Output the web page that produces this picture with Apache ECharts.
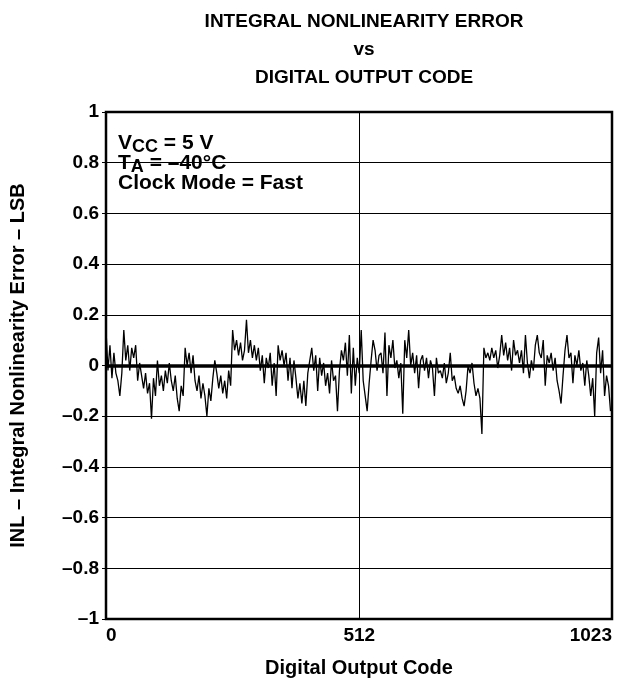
<!DOCTYPE html>
<html>
<head>
  <meta charset="utf-8">
  <script src="https://cdn.jsdelivr.net/npm/echarts@6/dist/echarts.min.js"></script>
</head>
<body style="margin:0; background:#fff;">
  <div id="container" style="width:635px; height:685px;"></div>
  <script type="text/javascript">
    // INL values, one sample every 4 codes
    var inl = [
      0.14, -0.02, 0.08, -0.05, 0.05, -0.03, -0.06, -0.12, -0.03, 0.14,
      0.02, 0.08, -0.02, 0.07, 0.03, 0.08, -0.06, 0.01, -0.04, -0.09,
      -0.03, -0.11, -0.07, -0.21, -0.05, -0.12, 0.02, -0.08, -0.04, -0.1,
      -0.02, -0.07, 0.01, -0.06, -0.1, -0.04, -0.13, -0.18, -0.08, -0.12,
      0.07, 0.0, 0.05, -0.03, 0.04, -0.06, -0.1, -0.04, -0.13, -0.07,
      -0.12, -0.2, -0.09, -0.14, -0.05, 0.02, -0.03, -0.09, -0.04, -0.11,
      -0.06, -0.13, -0.02, -0.08, 0.14, 0.06, 0.1, 0.04, 0.09, 0.02,
      0.06, 0.18, 0.05, 0.1, 0.03, 0.08, 0.02, 0.07, -0.02, 0.04,
      -0.07, 0.03, -0.01, 0.05, -0.08, 0.01, -0.12, 0.08, 0.02, 0.06,
      0.0, 0.05, -0.06, 0.03, -0.09, 0.02, -0.05, -0.13, -0.07, -0.15,
      -0.06, -0.16, -0.03, 0.02, 0.07, -0.02, 0.04, -0.1, 0.03, -0.04,
      0.01, -0.08, -0.03, -0.11, 0.02, -0.06, -0.04, -0.18, -0.02, 0.06,
      0.02, 0.09, -0.04, 0.12, -0.11, 0.07, -0.08, 0.03, -0.03, 0.14,
      -0.06, -0.12, -0.18, -0.07, 0.02, 0.1, 0.06, -0.02, 0.04, 0.05,
      -0.03, 0.13, -0.12, 0.08, 0.03, 0.1, -0.01, 0.02, -0.05, 0.01,
      -0.19, 0.1, 0.03, 0.14, 0.0, 0.05, -0.03, 0.04, -0.09, 0.02,
      0.04, -0.02, 0.03, -0.05, 0.02, -0.01, -0.12, 0.03, -0.03, -0.02,
      -0.05, 0.01, -0.07, -0.03, 0.05, -0.06, -0.04, -0.09, -0.11, -0.08,
      -0.13, -0.16, -0.1, 0.0, -0.03, 0.01, -0.07, -0.12, -0.09, -0.13,
      -0.27, 0.07, 0.03, 0.05, 0.02, 0.07, 0.03, 0.06, -0.01, 0.04,
      0.12, 0.04, 0.09, 0.02, 0.07, -0.02, 0.1, 0.04, 0.06, 0.01,
      0.06, -0.03, 0.12, 0.01, -0.05, 0.02, -0.02, 0.08, 0.12, 0.05,
      0.03, 0.1, -0.08, 0.04, 0.01, 0.05, -0.02, 0.03, -0.06, -0.1,
      -0.15, -0.04, 0.06, 0.12, 0.03, 0.05, -0.07, 0.04, 0.0, 0.06,
      -0.02, 0.01, -0.08, 0.02, -0.04, -0.12, -0.05, -0.2, 0.05, 0.11,
      -0.03, 0.06, -0.12, -0.04, -0.08, -0.18
    ];
    var codeStep = 4;
    var xTicks = [0, 512, 1023];
    var yMin = -1, yMax = 1, yStep = 0.2;

    var points = [];
    for (var i = 0; i < inl.length; i++) {
      points.push([Math.min(i * codeStep, 1023), inl[i]]);
    }

    var font = 'Liberation Sans, Arial, Helvetica, sans-serif';
    var dom = document.getElementById('container');
    var myChart = echarts.init(dom, null, { renderer: 'canvas' });

    var option = {
      backgroundColor: '#fff',
      animation: false,
      title: {
        text: 'INTEGRAL NONLINEARITY ERROR\nvs\nDIGITAL OUTPUT CODE',
        left: 359,
        top: 3,
        textAlign: 'center',
        textStyle: {
          fontFamily: font, fontWeight: 'bold', fontSize: 19,
          color: '#000', lineHeight: 28
        }
      },
      grid: {
        left: 106, right: 23, top: 112, bottom: 66,
        show: true, borderColor: '#000', borderWidth: 2.5,
        backgroundColor: 'transparent'
      },
      xAxis: {
        type: 'value',
        min: 0, max: 1023, interval: 512,
        name: 'Digital Output Code',
        nameLocation: 'middle',
        nameGap: 39,
        nameTextStyle: { fontFamily: font, fontWeight: 'bold', fontSize: 20, color: '#000' },
        axisLine: { show: false },
        axisTick: { show: false },
        axisLabel: {
          customValues: xTicks,
          margin: 7,
          alignMinLabel: 'left',
          alignMaxLabel: 'right',
          fontFamily: font, fontWeight: 'bold', fontSize: 19, color: '#000',
          formatter: function (v) { return String(Math.round(v)); }
        },
        splitLine: { show: true, lineStyle: { color: '#000', width: 1 } }
      },
      yAxis: {
        type: 'value',
        min: yMin, max: yMax, interval: yStep,
        name: 'INL \u2013 Integral Nonlinearity Error \u2013 LSB',
        nameLocation: 'middle',
        nameGap: 78,
        nameTextStyle: { fontFamily: font, fontWeight: 'bold', fontSize: 20, color: '#000' },
        axisLine: { show: false },
        axisTick: { show: true, length: 4, lineStyle: { color: '#000', width: 1 } },
        axisLabel: {
          margin: 7,
          fontFamily: font, fontWeight: 'bold', fontSize: 19, color: '#000',
          formatter: function (v) {
            var r = Math.round(v * 10) / 10;
            if (r === 0) return '0';
            var s = Math.abs(r) === 1 ? '1' : Math.abs(r).toFixed(1);
            return r < 0 ? '\u2013' + s : s;
          }
        },
        splitLine: { show: true, lineStyle: { color: '#000', width: 1 } }
      },
      series: [
        {
          type: 'line',
          data: points,
          showSymbol: false,
          lineStyle: { color: '#000', width: 1.3 },
          markLine: {
            silent: true,
            symbol: ['none', 'none'],
            label: { show: false },
            lineStyle: { color: '#000', width: 3.5, type: 'solid' },
            data: [{ yAxis: 0 }]
          }
        }
      ],
      graphic: [
        {
          type: 'text',
          left: 118,
          top: 133,
          style: {
            text: '{a|V}{s|CC}{a| = 5 V}\n{a|T}{s|A}{a| = \u201340\u00b0C}\n{a|Clock Mode = Fast}',
            fill: '#000',
            rich: {
              a: { fontFamily: font, fontWeight: 'bold', fontSize: 21, lineHeight: 20, verticalAlign: 'top' },
              s: { fontFamily: font, fontWeight: 'bold', fontSize: 18, lineHeight: 20, verticalAlign: 'top', padding: [5, 0, 0, 0] }
            }
          }
        }
      ]
    };

    myChart.setOption(option);
    window.addEventListener('resize', myChart.resize);
  </script>
</body>
</html>
